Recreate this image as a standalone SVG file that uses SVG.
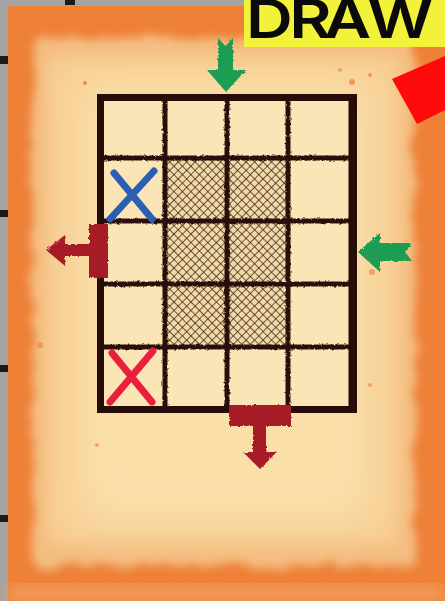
<svg xmlns="http://www.w3.org/2000/svg" width="445" height="601" viewBox="0 0 445 601">
  <defs>
    <style>
      .cellline { stroke: #2a1009; stroke-width: 5; fill: none; stroke-linecap: square; }
      .frame { stroke: #260d07; stroke-width: 7; fill: none; }
      .xmark { fill: none; stroke-width: 7; stroke-linecap: round; }
      .green { fill: #1f9d52; }
      .red { fill: #a61d26; }
      .title { font-family: "Inter", "Liberation Sans", sans-serif; font-size: 54px; font-weight: 600; fill: #0a0a0a; }
    </style>
    <filter id="soft" x="-20%" y="-20%" width="140%" height="140%">
      <feGaussianBlur stdDeviation="8"/>
    </filter>
    <filter id="soft2" x="-20%" y="-20%" width="140%" height="140%">
      <feGaussianBlur stdDeviation="18"/>
    </filter>
    <filter id="rough" x="-10%" y="-10%" width="120%" height="120%">
      <feTurbulence type="fractalNoise" baseFrequency="0.35" numOctaves="2" seed="3" result="n"/>
      <feDisplacementMap in="SourceGraphic" in2="n" scale="3"/>
    </filter>
    <filter id="rough2" x="-5%" y="-5%" width="110%" height="110%">
      <feTurbulence type="fractalNoise" baseFrequency="0.05" numOctaves="3" seed="7" result="n"/>
      <feDisplacementMap in="SourceGraphic" in2="n" scale="16"/>
      <feGaussianBlur stdDeviation="5"/>
    </filter>
    <pattern id="hatch" width="6" height="6" patternUnits="userSpaceOnUse" patternTransform="rotate(45)">
      <rect width="6" height="6" fill="#f1d9a8"/>
      <line x1="0" y1="0" x2="0" y2="6" stroke="#33190e" stroke-width="1.4"/>
      <line x1="0" y1="0" x2="6" y2="0" stroke="#33190e" stroke-width="1.4"/>
    </pattern>
  </defs>

  <!-- wall and parchment background -->
  <g id="background">
    <rect x="0" y="0" width="445" height="601" fill="#a5a3a3"/>
    <rect x="0" y="56" width="8" height="8" fill="#1a1a1a"/>
    <rect x="0" y="210" width="8" height="7" fill="#1a1a1a"/>
    <rect x="0" y="365" width="8" height="7" fill="#1a1a1a"/>
    <rect x="0" y="515" width="8" height="7" fill="#1a1a1a"/>
    <rect x="65" y="0" width="10" height="5" fill="#1a1a1a"/>
    <rect x="8" y="6" width="437" height="595" fill="#ee8038"/>
    <rect x="8" y="586" width="437" height="15" fill="#f2a262" filter="url(#soft)"/>
    <rect x="33" y="38" width="382" height="528" fill="#f4bd80" filter="url(#rough2)"/>
    <rect x="48" y="58" width="350" height="485" fill="#f7cf95" filter="url(#soft)"/>
    <rect x="80" y="80" width="290" height="440" fill="#fadfa9" filter="url(#soft2)"/>
    <circle cx="85" cy="83" r="2" fill="#ee8a3f"/>
    <circle cx="352" cy="82" r="3" fill="#f08a45" opacity="0.8"/>
    <circle cx="370" cy="75" r="2" fill="#f08a45" opacity="0.8"/>
    <circle cx="340" cy="70" r="2" fill="#f08a45" opacity="0.7"/>
    <circle cx="97" cy="445" r="2" fill="#f08a45" opacity="0.7"/>
    <circle cx="370" cy="385" r="2" fill="#f08a45" opacity="0.7"/>
    <circle cx="372" cy="272" r="3" fill="#f08a45" opacity="0.7"/>
    <circle cx="40" cy="345" r="3" fill="#f08a45" opacity="0.7"/>
  </g>

  <!-- title -->
  <g id="title">
    <rect x="244" y="0" width="201" height="47" fill="#f3f23a"/>
    <text class="title" transform="translate(246,38) scale(1.2,1)" x="0 36 65 101" y="0">DRAW</text>
  </g>
  <polygon id="red-shape" points="392,79 445,56 445,110 417,124" fill="#fe0a0a"/>

  <!-- board -->
  <g id="board">
    <rect x="100" y="97" width="254" height="313" fill="#fbe4b5"/>
    <rect x="165" y="158" width="123" height="189" fill="url(#hatch)"/>
    <g filter="url(#rough)">
      <line class="cellline" x1="165" y1="99" x2="165" y2="409"/>
      <line class="cellline" x1="227" y1="99" x2="227" y2="409"/>
      <line class="cellline" x1="288" y1="99" x2="288" y2="409"/>
      <line class="cellline" x1="101" y1="158" x2="353" y2="158"/>
      <line class="cellline" x1="101" y1="221" x2="353" y2="221"/>
      <line class="cellline" x1="101" y1="284" x2="353" y2="284"/>
      <line class="cellline" x1="101" y1="347" x2="353" y2="347"/>
    </g>
    <rect class="frame" x="100.5" y="97.5" width="253" height="312"/>
    <line x1="352" y1="95" x2="352" y2="412" stroke="#260d07" stroke-width="7"/>
  </g>

  <!-- marks -->
  <g id="blue-x">
    <line class="xmark" stroke="#2a5fb4" x1="114" y1="173" x2="152" y2="219"/>
    <line class="xmark" stroke="#2a5fb4" x1="154" y1="171" x2="110" y2="219"/>
  </g>
  <g id="red-x">
    <line class="xmark" stroke="#ea1f3b" x1="112" y1="353" x2="152" y2="402"/>
    <line class="xmark" stroke="#ea1f3b" x1="153" y1="351" x2="110" y2="402"/>
  </g>

  <!-- arrows -->
  <g id="connectors">
    <g id="arrow-in-top" filter="url(#rough)">
      <polygon class="green" points="218,38 225.5,46 233,38 233,70 246,70 226,92 207,70 218,70"/>
    </g>
    <g id="arrow-in-right" filter="url(#rough)">
      <polygon class="green" points="358,252 380,233 380,243 412,243 405,252 412,261 380,261 380,272"/>
    </g>
    <g id="arrow-out-left" filter="url(#rough)">
      <polygon class="red" points="46,250 65,235 65,244 92,244 92,256 65,256 65,266"/>
      <rect class="red" x="89" y="224" width="19" height="54"/>
    </g>
    <g id="arrow-out-bottom" filter="url(#rough)">
      <rect class="red" x="229" y="405" width="62" height="21"/>
      <rect class="red" x="253" y="424" width="13" height="29"/>
      <polygon class="red" points="243,452 277,452 260,469"/>
    </g>
  </g>
</svg>
